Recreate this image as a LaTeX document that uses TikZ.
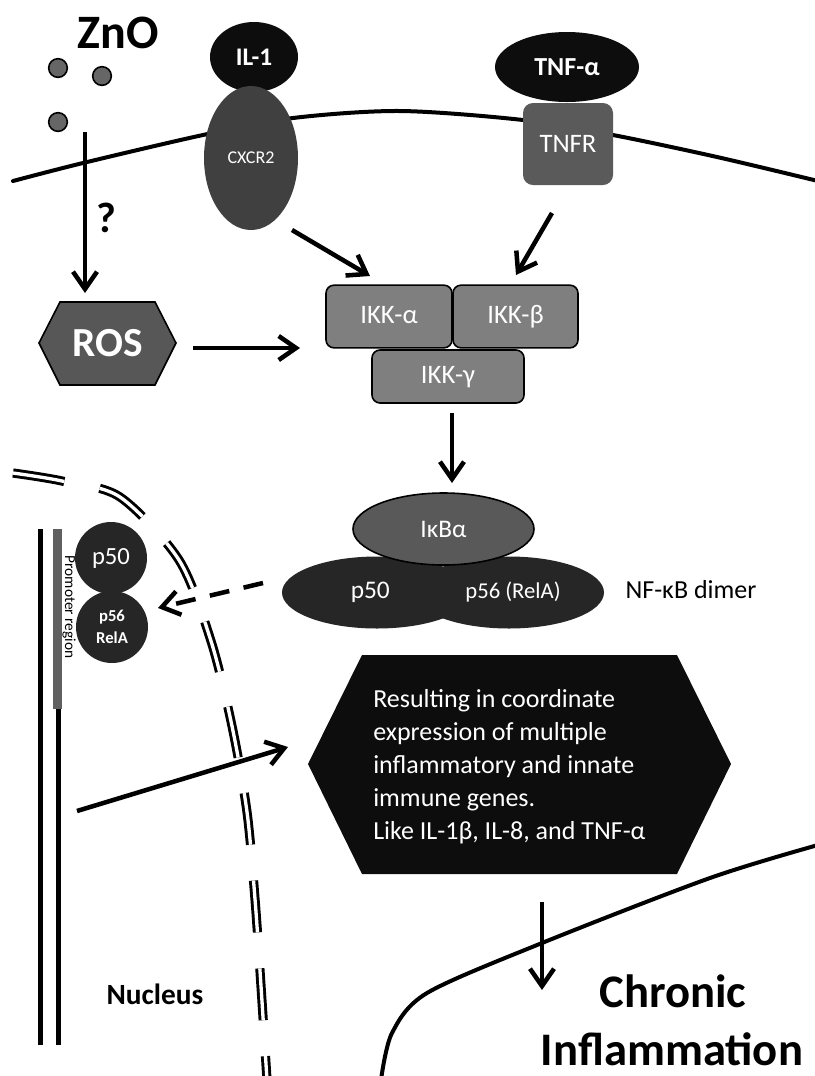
\documentclass[tikz,border=0pt]{standalone}
\usepackage{fontspec}
\setmainfont{Carlito}
\usetikzlibrary{arrows.meta,shapes.geometric}
\definecolor{dotgray}{HTML}{666666}
\definecolor{cxcrgray}{HTML}{404040}
\definecolor{tnfrgray}{HTML}{5A5A5A}
\definecolor{ikkgray}{HTML}{7F7F7F}
\definecolor{ikbgray}{HTML}{595959}
\definecolor{dimergray}{HTML}{262626}
\definecolor{rosgray}{HTML}{575757}
\definecolor{bargray}{HTML}{606060}
\definecolor{nearblack}{HTML}{0D0D0D}
\begin{document}
\begin{tikzpicture}[x=0.75pt, y=-0.75pt, every node/.style={inner sep=0pt},
    arr/.style={line width=3.4pt, -{Straight Barb[length=13pt,width=18pt]}},
    membrane/.style={line width=3pt, line cap=round},
    envelope/.style={line width=2.2pt, double, double distance=2.5pt,
        dash pattern=on 39pt off 27pt},
    molecule/.style={ellipse, text=white},
    kinase/.style={rectangle, rounded corners=6pt, fill=ikkgray, draw=black,
        line width=1.2pt, minimum height=47pt, text=white, text height=14pt,
        text depth=4pt, font=\fontsize{20}{23}\selectfont},
    znodot/.style={circle, fill=dotgray, draw=black, line width=1.2pt,
        minimum size=14pt}]
    \useasboundingbox (0,0) rectangle (815,1076);
    % membranes
    \draw[membrane] plot[smooth] coordinates {(13,181) (83,163) (203,135)
        (293,118) (400,111) (523,120) (613,135) (717,157) (818,181)};
    \draw[membrane] plot[smooth] coordinates {(818,845) (710,878) (542,943)
        (427,993) (392,1033) (381,1080)};
    \draw[envelope] plot[smooth] coordinates {(13,473) (62,481) (120,497)
        (179,560) (211,641) (232,726) (247,812) (255,899) (261,986) (267,1080)};
    % DNA strands
    \draw[line width=3.75pt] (40,529) -- (40,1045);
    \draw[line width=6.75pt, bargray] (57.5,529) -- (57.5,709);
    \draw[line width=3.75pt] (58,709) -- (58,1045);
    \node[rotate=-90, font=\fontsize{11.5}{13}\selectfont] (promoter) at (69,607) {Promoter region};
    % ZnO
    \node[font=\fontsize{36}{40}\selectfont\bfseries] (zno) at (118,33) {ZnO};
    \foreach \x/\y in {58/68, 102/76, 58/122}
        \node[znodot] (dot\x\y) at (\x,\y) {};
    \node[font=\fontsize{32}{36}\selectfont\bfseries] (query) at (106,218) {?};
    % receptors
    \node[molecule, fill=nearblack, minimum width=66pt, minimum height=52.5pt,
        font=\fontsize{19}{22}\selectfont\bfseries] (il1) at (254,57) {IL-1};
    \node[molecule, fill=cxcrgray, minimum width=70.5pt, minimum height=108pt,
        font=\fontsize{13.5}{16}\selectfont] (cxcr) at (251,158) {CXCR2};
    \node[molecule, fill=nearblack, minimum width=108pt, minimum height=52.5pt,
        font=\fontsize{19.5}{22}\selectfont\bfseries] (tnfa) at (567,67) {TNF-α};
    \node[rectangle, rounded corners=7.5pt, fill=tnfrgray, text=white,
        minimum width=67.5pt, minimum height=61.5pt,
        font=\fontsize{20}{22}\selectfont] (tnfr) at (568,144) {TNFR};
    % ROS
    \filldraw[fill=rosgray, line width=1.2pt] (39,343) -- (60,302) -- (155,302)
        -- (176,343) -- (155,385) -- (60,385) -- cycle;
    \node[text=white, font=\fontsize{31}{36}\selectfont\bfseries] (ros) at (108,343) {ROS};
    % IKK complex
    \node[kinase, minimum width=94.5pt] (ikka) at (389,316.5) {IKK-α};
    \node[kinase, minimum width=93.75pt] (ikkb) at (515.5,316.5) {IKK-β};
    \node[kinase, minimum width=114pt, minimum height=39.75pt] (ikkg) at (448,376.5) {IKK-γ};
    % NF-kB
    \node[molecule, fill=dimergray, minimum width=142.5pt, minimum height=54pt,
        font=\fontsize{19}{22}\selectfont] (dimp50) at (377,592.5) {\hspace{-10pt}p50};
    \node[molecule, fill=dimergray, minimum width=142.5pt, minimum height=54pt,
        font=\fontsize{17}{20}\selectfont] (dimp56) at (509,592.5) {\hspace{6pt}p56 (RelA)};
    \node[molecule, fill=ikbgray, draw=black, line width=1.2pt, minimum width=135.75pt,
        minimum height=54pt, font=\fontsize{19}{22}\selectfont] (ikba) at (443.5,529) {IκBα};
    \node[font=\fontsize{19.5}{22}\selectfont] (nfkb) at (691,590) {NF-κB dimer};
    \node[circle, fill=dimergray, text=white, minimum size=54pt,
        font=\fontsize{18.5}{22}\selectfont] (np50) at (111,558) {p50};
    \node[circle, fill=dimergray, text=white, minimum size=54pt, align=center,
        font=\fontsize{12.5}{16.5}\selectfont\bfseries] (np56) at (112,627) {p56\\RelA};
    % gene expression
    \fill[nearblack] (308,764) -- (362,655) -- (677,655) -- (731,764) -- (677,874)
        -- (362,874) -- cycle;
    \node[anchor=north west, align=left, text=white,
        font=\fontsize{19.5}{24.75}\selectfont] (genes) at (373,689)
        {Resulting in coordinate\\expression of multiple\\inflammatory and innate\\
        immune genes.\\Like IL-1β, IL-8, and TNF-α};
    \node[anchor=base, font=\fontsize{22}{26}\selectfont\bfseries] (nucleus) at (155,1004) {Nucleus};
    \node[anchor=base, font=\fontsize{35}{40}\selectfont\bfseries] (chronic) at (673,1007) {Chronic};
    \node[anchor=base, font=\fontsize{35}{40}\selectfont\bfseries] (inflam) at (672,1065) {Inflammation};
    % arrows
    \coordinate (znoTail) at (85,132);   \coordinate (znoTip) at (85,293);
    \coordinate (cxcrTail) at (292,230); \coordinate (cxcrTip) at (370,276);
    \coordinate (tnfrTail) at (552,213); \coordinate (tnfrTip) at (516,275);
    \coordinate (rosTail) at (193,348);  \coordinate (rosTip) at (300,348);
    \coordinate (ikkTail) at (452,413);  \coordinate (ikkTip) at (452,483);
    \coordinate (nucTail) at (263,583);  \coordinate (nucTip) at (158,608);
    \coordinate (dnaTail) at (77,811);   \coordinate (dnaTip) at (288,747);
    \coordinate (infTail) at (542,902);  \coordinate (infTip) at (542,990);
    \draw[arr] (znoTail) -- (znoTip);
    \draw[arr] (cxcrTail) -- (cxcrTip);
    \draw[arr] (tnfrTail) -- (tnfrTip);
    \draw[arr] (rosTail) -- (rosTip);
    \draw[arr] (ikkTail) -- (ikkTip);
    \draw[arr, dash pattern=on 15pt off 11pt] (nucTail) -- (nucTip);
    \draw[arr] (dnaTail) -- (dnaTip);
    \draw[arr] (infTail) -- (infTip);
\end{tikzpicture}
\end{document}
